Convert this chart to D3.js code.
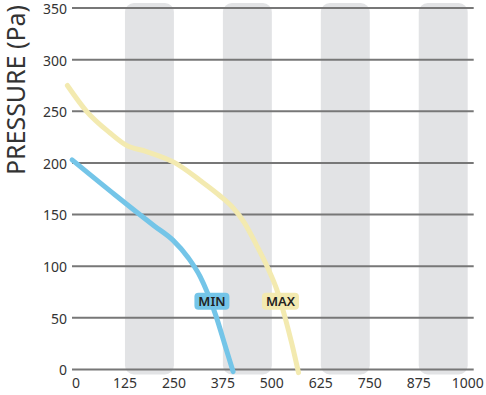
<!DOCTYPE html>
<html>
<head>
<meta charset="utf-8">
<script src="https://cdn.jsdelivr.net/npm/d3@7"></script>
<style>
  body { margin: 0; background: #fff; }
  text { font-family: "Noto Sans", "Open Sans", sans-serif; }
</style>
</head>
<body>
<svg width="486" height="395"></svg>
<script>
const chart = d3.select("svg");

// tick values
const xTicks = [0, 125, 250, 375, 500, 625, 750, 875, 1000];
const yTicks = [0, 50, 100, 150, 200, 250, 300, 350];

// shaded bands (flow ranges)
const bandStart = [125, 375, 625, 875];
const bandEnd = [250, 500, 750, 1000];

// MIN curve
const minX = [-10, 100, 200, 248, 287, 317, 336, 359, 380, 401];
const minY = [203, 169, 139, 125, 108, 90, 74, 50, 24, -2];

// MAX curve
const maxX = [-22, 27, 87, 129, 180, 253, 317, 368, 400, 430, 460, 490, 512, 534, 551, 568];
const maxY = [275, 250, 229, 217, 211, 200, 183, 168, 157, 142, 121, 98, 78, 50, 25, -3];

// curve labels
const labelNames = ["MIN", "MAX"];
const labelX = [347, 522];
const labelY = [66, 66];
const labelColors = ["#74c5e8", "#f3eab0"];

const x = d3.scaleLinear().domain([0, 1000]).range([76, 467.7]);
const y = d3.scaleLinear().domain([0, 350]).range([369.5, 8]);

// gray bands
chart.selectAll("rect.band")
     .data(bandStart)
     .enter()
     .append("rect")
     .attr("class", "band")
     .attr("x", (d) => x(d))
     .attr("width", (d, i) => x(bandEnd[i]) - x(d))
     .attr("y", y(350) - 5)
     .attr("height", y(0) - y(350) + 10)
     .attr("rx", 9)
     .attr("fill", "#e2e3e5");

// gridlines
chart.selectAll("line.grid")
     .data(yTicks)
     .enter()
     .append("line")
     .attr("class", "grid")
     .attr("x1", x(0) - 4)
     .attr("x2", x(1000) + 6)
     .attr("y1", (d) => y(d))
     .attr("y2", (d) => y(d))
     .attr("stroke", "#777")
     .attr("stroke-width", 2);

// y tick labels
chart.selectAll("text.ytick")
     .data(yTicks)
     .enter()
     .append("text")
     .attr("class", "ytick")
     .attr("x", x(0) - 9)
     .attr("y", (d) => y(d))
     .attr("dy", "0.42em")
     .attr("text-anchor", "end")
     .attr("font-size", 14)
     .attr("fill", "#333")
     .text((d) => d);

// x tick labels
chart.selectAll("text.xtick")
     .data(xTicks)
     .enter()
     .append("text")
     .attr("class", "xtick")
     .attr("x", (d) => x(d))
     .attr("y", 388)
     .attr("text-anchor", "middle")
     .attr("font-size", 14)
     .attr("fill", "#333")
     .text((d) => d);

// axis title
chart.append("text")
     .attr("transform", "translate(25,90) rotate(-90)")
     .attr("text-anchor", "middle")
     .attr("font-size", 25)
     .attr("textLength", 170)
     .attr("lengthAdjust", "spacingAndGlyphs")
     .attr("fill", "#333")
     .text("PRESSURE (Pa)");

const genLine = d3.line()
                  .x((d) => x(d[0]))
                  .y((d) => y(d[1]))
                  .curve(d3.curveMonotoneX);

chart.append("path")
     .attr("d", genLine(maxX.map((v, i) => [v, maxY[i]])))
     .attr("fill", "none")
     .attr("stroke", labelColors[1])
     .attr("stroke-width", 5)
     .attr("stroke-linecap", "round");

chart.append("path")
     .attr("d", genLine(minX.map((v, i) => [v, minY[i]])))
     .attr("fill", "none")
     .attr("stroke", labelColors[0])
     .attr("stroke-width", 5)
     .attr("stroke-linecap", "round");

// labels
let labels = chart.selectAll("g.label")
                  .data(labelNames)
                  .enter()
                  .append("g")
                  .attr("class", "label")
                  .attr("transform", (d, i) => "translate(" + x(labelX[i]) + "," + y(labelY[i]) + ")");

labels.append("rect")
      .attr("x", (d, i) => i == 0 ? -17.5 : -18.5)
      .attr("width", (d, i) => i == 0 ? 35 : 37)
      .attr("y", -8.5)
      .attr("height", 17)
      .attr("rx", 4)
      .attr("fill", (d, i) => labelColors[i]);

labels.append("text")
      .attr("text-anchor", "middle")
      .attr("dy", "0.36em")
      .attr("font-size", 13)
      .attr("font-weight", 600)
      .attr("fill", "#222")
      .text((d) => d);
</script>
</body>
</html>
